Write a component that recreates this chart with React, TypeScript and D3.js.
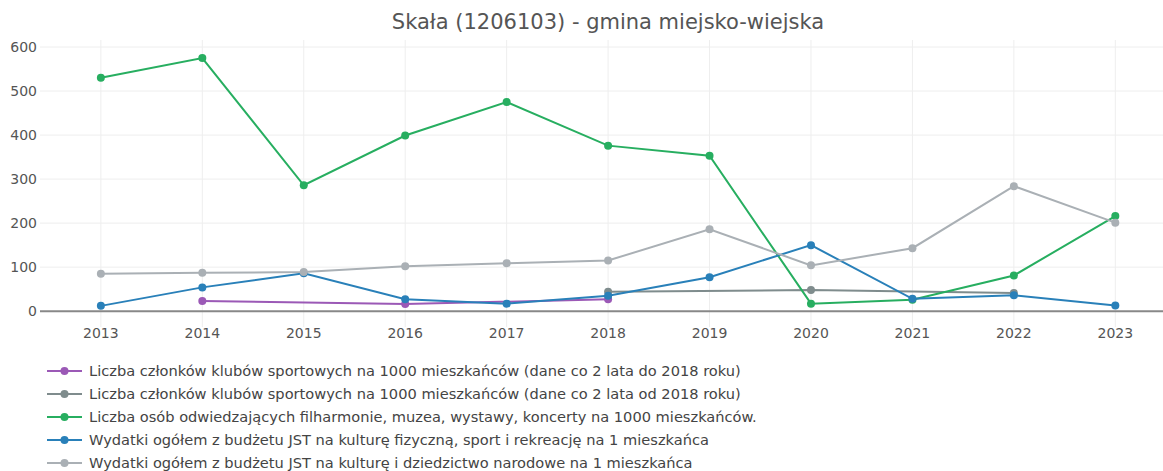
import { useRef, useEffect } from "react";
import * as d3 from "d3";

const years = [2013, 2014, 2015, 2016, 2017, 2018, 2019, 2020, 2021, 2022, 2023];

// null = brak danych w danym roku
const klubyDo2018 = [null, 23, null, 16, null, 27, null, null, null, null, null];
const klubyOd2018 = [null, null, null, null, null, 44, null, 48, null, 41, null];
const odwiedzajacy = [530, 575, 286, 399, 475, 376, 353, 17, 26, 81, 216];
const wydatkiSport = [12, 54, 86, 27, 17, 35, 77, 150, 28, 36, 13];
const wydatkiKultura = [85, 87, 89, 102, 109, 115, 186, 104, 143, 284, 201];

const yTicks = [0, 100, 200, 300, 400, 500, 600];

const seriesNames = [
  "Liczba członków klubów sportowych na 1000 mieszkańców (dane co 2 lata do 2018 roku)",
  "Liczba członków klubów sportowych na 1000 mieszkańców (dane co 2 lata od 2018 roku)",
  "Liczba osób odwiedzających filharmonie, muzea, wystawy, koncerty na 1000 mieszkańców.",
  "Wydatki ogółem z budżetu JST na kulturę fizyczną, sport i rekreację na 1 mieszkańca",
  "Wydatki ogółem z budżetu JST na kulturę i dziedzictwo narodowe na 1 mieszkańca",
];
const seriesColors = ["#9b59b6", "#7f8c8d", "#27ae60", "#2980b9", "#aab0b5"];
const seriesValues = [klubyDo2018, klubyOd2018, odwiedzajacy, wydatkiSport, wydatkiKultura];

const title = "Skała (1206103) - gmina miejsko-wiejska";

export default function App() {
  const svgRef = useRef<SVGSVGElement>(null);
  const width = 1163;
  const height = 471;

  useEffect(() => {
    if (!svgRef.current) return;
    const svg = d3.select(svgRef.current);
    svg.selectAll("*").remove();

    const left = 40;
    const right = 1163;
    const top = 40;
    const bottom = 327;

    const x = d3
      .scaleLinear()
      .domain([2012.4, 2023.47])
      .range([left, right]);

    const y = d3.scaleLinear().domain([-36, 616]).range([bottom, top]);

    const font = "'DejaVu Sans', Verdana, sans-serif";

    svg.append("rect").attr("width", width).attr("height", height).attr("fill", "#fff");

    // title
    svg
      .append("text")
      .attr("x", 608)
      .attr("y", 29)
      .attr("text-anchor", "middle")
      .attr("font-family", font)
      .attr("font-size", 21)
      .attr("fill", "#555")
      .text(title);

    // grid
    svg
      .selectAll(".hgrid")
      .data(yTicks.filter((d) => d !== 0))
      .join("line")
      .attr("x1", left)
      .attr("x2", right)
      .attr("y1", (d) => y(d))
      .attr("y2", (d) => y(d))
      .attr("stroke", "#eee")
      .attr("stroke-width", 1);

    svg
      .selectAll(".vgrid")
      .data(years)
      .join("line")
      .attr("x1", (d) => x(d))
      .attr("x2", (d) => x(d))
      .attr("y1", top)
      .attr("y2", bottom)
      .attr("stroke", "#eee")
      .attr("stroke-width", 1);

    // zero line
    svg
      .append("line")
      .attr("x1", left)
      .attr("x2", right)
      .attr("y1", y(0))
      .attr("y2", y(0))
      .attr("stroke", "#888")
      .attr("stroke-width", 2);

    // tick labels
    svg
      .selectAll(".ytick")
      .data(yTicks)
      .join("text")
      .attr("x", 37)
      .attr("y", (d) => y(d) + 5)
      .attr("text-anchor", "end")
      .attr("font-family", font)
      .attr("font-size", 14)
      .attr("fill", "#555")
      .text((d) => d);

    svg
      .selectAll(".xtick")
      .data(years)
      .join("text")
      .attr("x", (d) => x(d))
      .attr("y", 338)
      .attr("text-anchor", "middle")
      .attr("font-family", font)
      .attr("font-size", 14)
      .attr("fill", "#555")
      .text((d) => d);

    // series
    seriesValues.forEach((vals, si) => {
      const pts = vals
        .map((v, i) => ({ year: years[i], v }))
        .filter((p) => p.v !== null);
      const g = svg.append("g");
      g.append("path")
        .datum(pts)
        .attr(
          "d",
          d3
            .line<{ year: number; v: number | null }>()
            .x((p) => x(p.year))
            .y((p) => y(p.v as number))
        )
        .attr("fill", "none")
        .attr("stroke", seriesColors[si])
        .attr("stroke-width", 2);
      g.selectAll("circle")
        .data(pts)
        .join("circle")
        .attr("cx", (p) => x(p.year))
        .attr("cy", (p) => y(p.v as number))
        .attr("r", 4)
        .attr("fill", seriesColors[si]);
    });

    // legend
    const legend = svg
      .append("g")
      .selectAll("g")
      .data(seriesNames)
      .join("g")
      .attr("transform", (_, i) => `translate(0,${371 + i * 23})`);

    legend
      .append("line")
      .attr("x1", 47)
      .attr("x2", 82)
      .attr("stroke", (_, i) => seriesColors[i])
      .attr("stroke-width", 2);
    legend
      .append("circle")
      .attr("cx", 64.5)
      .attr("r", 4)
      .attr("fill", (_, i) => seriesColors[i]);
    // the legend font is narrow, a bit wider than DejaVu Condensed
    legend
      .append("text")
      .attr("transform", "translate(89,5) scale(1.16,1)")
      .attr("font-family", "'DejaVu Sans Condensed', 'Liberation Sans Narrow', sans-serif")
      .attr("font-size", 14)
      .attr("fill", "#444")
      .text((d) => d);
  }, []);

  return (
    <svg
      ref={svgRef}
      width={width}
      height={height}
      style={{ position: "absolute", left: 0, top: 0, display: "block" }}
    />
  );
}
